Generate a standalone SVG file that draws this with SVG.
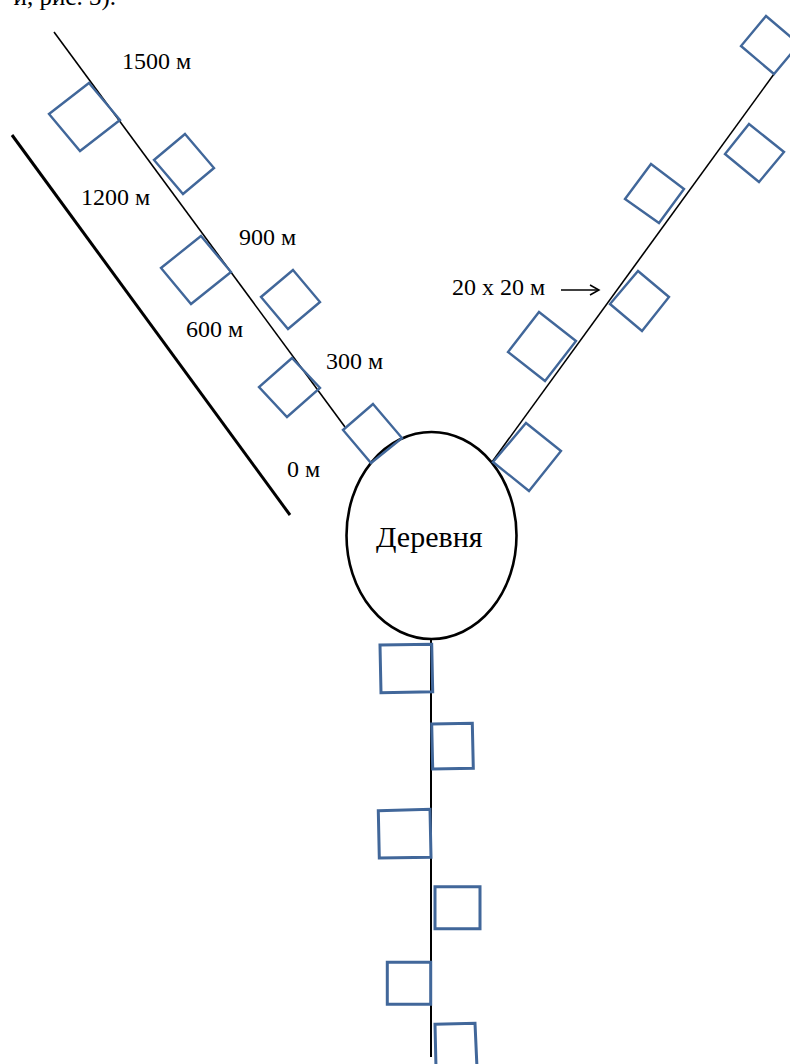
<svg xmlns="http://www.w3.org/2000/svg" width="790" height="1064" viewBox="0 0 790 1064">
<style>
  .road { stroke: #000; stroke-width: 1.6; fill: none; }
  .plot { fill: none; stroke: #41679A; stroke-width: 2.4; stroke-linejoin: miter; }
  .plotb { fill: none; stroke: #41679A; stroke-width: 3; }
</style>
<defs>
  <marker id="arr" markerWidth="12" markerHeight="12" refX="10" refY="6" orient="auto" markerUnits="userSpaceOnUse">
    <path d="M1,1 L10,6 L1,11" fill="none" stroke="#000" stroke-width="1.5"/>
  </marker>
</defs>
<rect width="790" height="1064" fill="#fff"/>

<text x="116" y="5" text-anchor="end" font-family="'Liberation Serif', 'Times New Roman', serif" font-size="25" fill="#000">и, рис. 3).</text>

<g id="connectors">
  <line id="road-left" class="road" x1="54" y1="32" x2="345" y2="427"/>
  <line id="boundary-left" x1="12" y1="135" x2="290" y2="515" stroke="#000" stroke-width="3"/>
  <line id="road-right" class="road" x1="492" y1="462" x2="774" y2="74"/>
  <line id="road-bottom" x1="431" y1="639" x2="431" y2="1057" stroke="#000" stroke-width="2"/>
  <line id="arrow-20x20" x1="561" y1="290" x2="599" y2="290" stroke="#000" stroke-width="1.5" marker-end="url(#arr)"/>
</g>

<g id="village">
  <ellipse cx="431.5" cy="535.5" rx="85" ry="103.5" fill="#fff" stroke="#000" stroke-width="2.6"/>
  <text x="376" y="547" font-family="'Liberation Serif', 'Times New Roman', serif" font-size="30" fill="#000">Деревня</text>
</g>

<g id="plots-left">
  <polygon id="L1" class="plot" points="89,83 120,120 80,151 49,114"/>
  <polygon id="L2" class="plot" points="185,134 214,168 183,194 154,160"/>
  <polygon id="L3" class="plot" points="201,236 231,272 191,304 161,268"/>
  <polygon id="L4" class="plot" points="293,270 320,302 288,329 261,297"/>
  <polygon id="L5" class="plot" points="292,358 320,388 287,417 259,387"/>
  <polygon id="L6" class="plot" points="373,404 402,438 371,463 343,430"/>
</g>

<g id="plots-right">
  <polygon id="R1" class="plot" points="766,16 799,44 774,74 741,46"/>
  <polygon id="R2" class="plot" points="749,124 784,152 759,182 725,154"/>
  <polygon id="R3" class="plot" points="651,164 684,189 659,223 625,199"/>
  <polygon id="R4" class="plot" points="638,271 669,297 642,331 610,304"/>
  <polygon id="R5" class="plot" points="539,312 576,341 545,381 508,352"/>
  <polygon id="R6" class="plot" points="526,423 561,451 529,491 493,462"/>
</g>

<g id="plots-bottom">
  <polygon id="B1" class="plotb" points="380,645 431.7,644.3 432.7,691.7 381,692.7"/>
  <polygon id="B2" class="plotb" points="431.7,724 472.3,723.3 473.3,768.3 432.7,769"/>
  <polygon id="B3" class="plotb" points="378.3,810.7 430,809.3 431,857.3 379.3,858"/>
  <polygon id="B4" class="plotb" points="435,886.7 480,886.7 480,928.7 435,928.7"/>
  <polygon id="B5" class="plotb" points="387.3,962.3 430.7,962.3 430.7,1004.3 387.3,1004.3"/>
  <polygon id="B6" class="plotb" points="435,1024.3 475,1023.3 477,1068 436,1068"/>
</g>

<g id="labels" font-family="'Liberation Serif', 'Times New Roman', serif" font-size="24" fill="#000">
  <text x="122" y="69">1500 м</text>
  <text x="81" y="205">1200 м</text>
  <text x="239" y="245">900 м</text>
  <text x="186" y="337">600 м</text>
  <text x="326" y="369">300 м</text>
  <text x="287" y="477">0 м</text>
  <text x="452" y="295">20 х 20 м</text>
</g>
</svg>
